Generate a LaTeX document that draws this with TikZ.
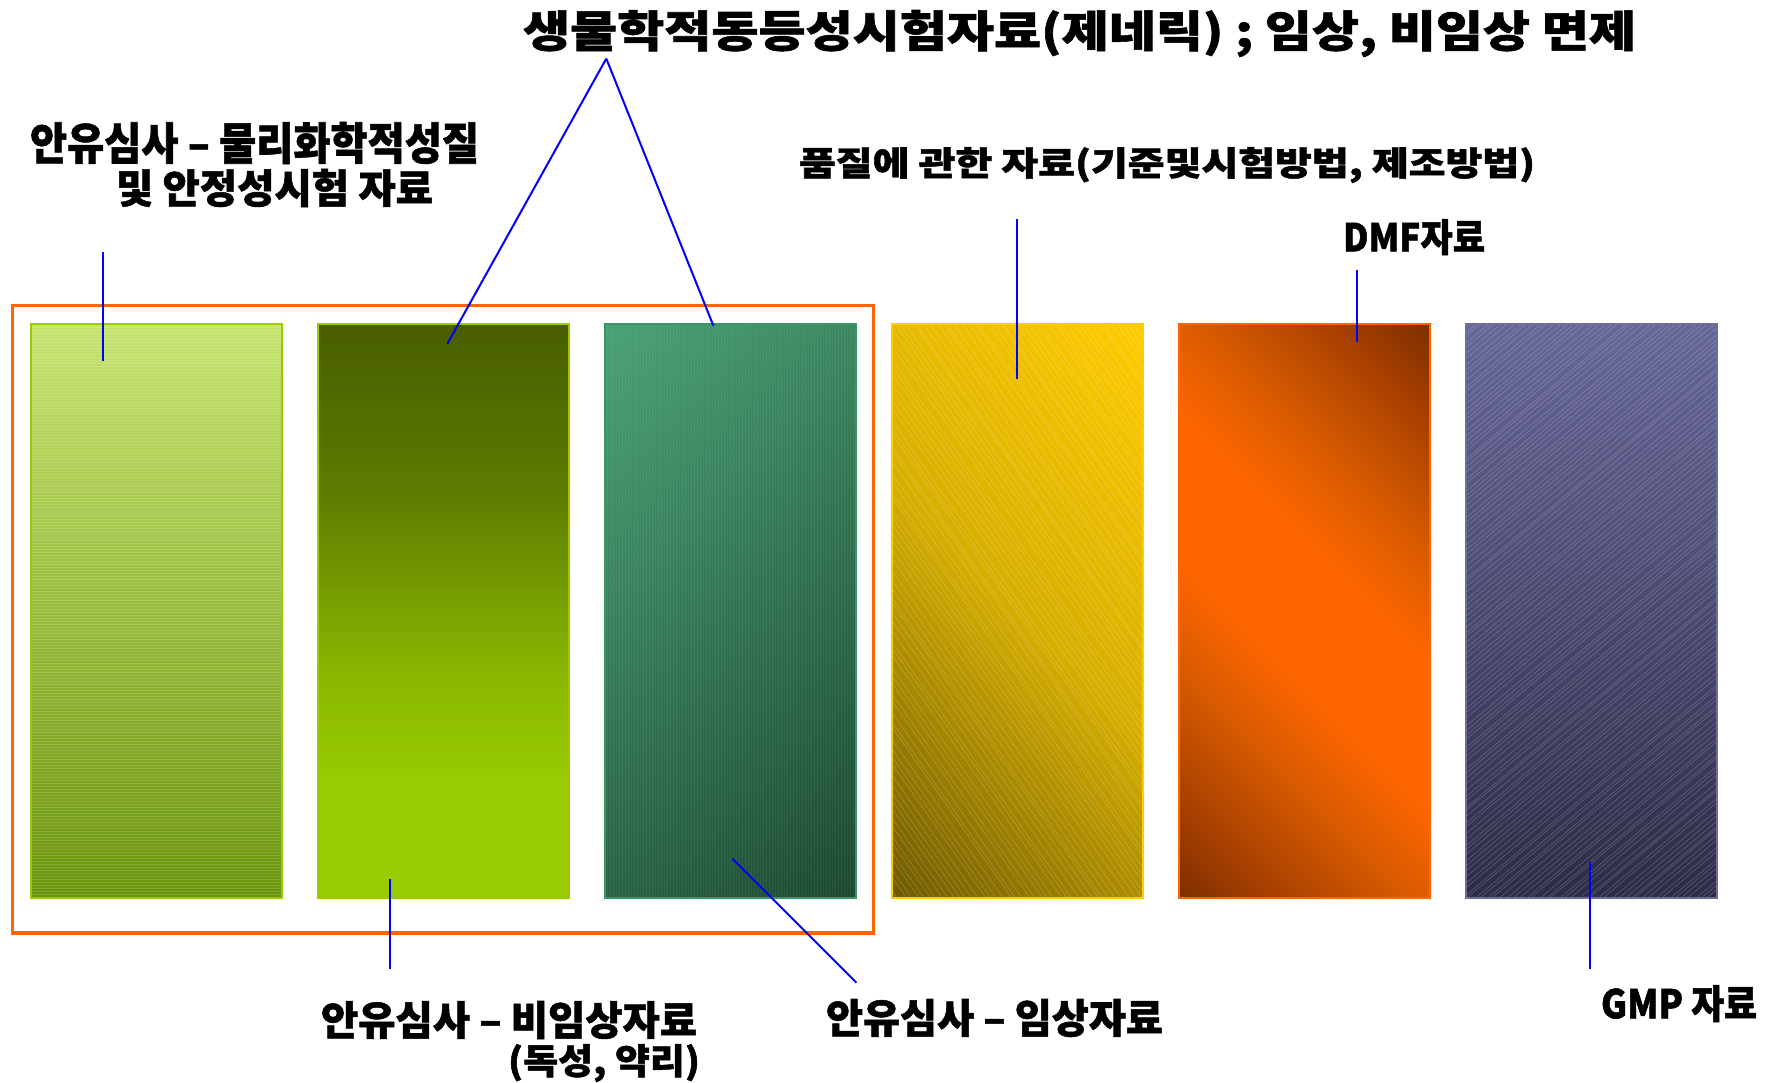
\documentclass[tikz,border=0pt]{standalone}
\usepackage{fontspec}
\usepackage{graphicx}
\setmainfont{Noto Sans CJK KR}[BoldFeatures={FakeBold=1.3}]
\definecolor{b1top}{RGB}{198,228,110}
\definecolor{b1bot}{RGB}{106,148,10}
\definecolor{lime}{RGB}{153,204,0}
\definecolor{b2top}{RGB}{72,94,0}
\definecolor{b2mid}{RGB}{95,124,0}
\definecolor{b2midb}{RGB}{136,182,0}
\definecolor{g3a}{RGB}{74,162,118}
\definecolor{g3b}{RGB}{27,72,48}
\definecolor{g3border}{RGB}{58,150,104}
\definecolor{y4a}{RGB}{108,88,0}
\definecolor{y4m}{RGB}{214,174,0}
\definecolor{y4b}{RGB}{255,204,0}
\definecolor{orng}{RGB}{255,102,0}
\definecolor{omid}{RGB}{214,90,0}
\definecolor{odark}{RGB}{168,64,0}
\definecolor{obrn}{RGB}{118,44,0}
\definecolor{p6top}{RGB}{102,102,152}
\definecolor{p6bot}{RGB}{44,44,70}
\definecolor{p6border}{RGB}{108,108,160}
\definecolor{linkblue}{RGB}{0,0,255}
\pgfdeclareverticalshading{bbtwo}{100bp}{color(0bp)=(lime); color(35bp)=(lime); color(45bp)=(b2midb); color(60bp)=(b2mid); color(75bp)=(b2top); color(100bp)=(b2top)}
\pgfdeclarehorizontalshading{bbthree}{100bp}{color(0bp)=(g3a); color(14bp)=(g3a); color(86bp)=(g3b); color(100bp)=(g3b)}
\pgfdeclarehorizontalshading{bbfour}{100bp}{color(0bp)=(y4a); color(14bp)=(y4a); color(50bp)=(y4m); color(86bp)=(y4b); color(100bp)=(y4b)}
\pgfdeclarehorizontalshading{bbfive}{100bp}{color(0bp)=(obrn); color(13bp)=(obrn); color(23bp)=(odark); color(34bp)=(omid); color(44bp)=(orng); color(56bp)=(orng); color(66bp)=(omid); color(77bp)=(odark); color(87bp)=(obrn); color(100bp)=(obrn)}
\newcommand{\fitto}[3]{\resizebox*{#1pt}{#2pt}{\bfseries #3}}
\begin{document}
\begin{tikzpicture}[x=1pt,y=-1pt,
  panel/.style={rectangle, inner sep=0pt, outer sep=0pt, minimum width=251pt, minimum height=573.5pt},
  rim/.style={line width=2pt},
  txt/.style={inner sep=0pt, outer sep=0pt, anchor=north west},
  link/.style={draw=linkblue, line width=2pt}]
\useasboundingbox[fill=white] (0,0) rectangle (1767,1083);

% panels
\node[panel, top color=b1top, bottom color=b1bot] (b1) at (156,611.25) {};
\node[panel, shade, shading=bbtwo] (b2) at (443,611.25) {};
\node[panel, shade, shading=bbthree, shading angle=-45] (b3) at (730,611.25) {};
\node[panel, shade, shading=bbfour, shading angle=45] (b4) at (1017,611.25) {};
\node[panel, shade, shading=bbfive, shading angle=45] (b5) at (1304,611.25) {};
\node[panel, top color=p6top, bottom color=p6bot] (b6) at (1591,611.25) {};

% textures
\begin{scope}
  \clip (b1.north west) rectangle (b1.south east);
  \foreach \k in {0,...,192}{
    \draw[white, opacity=0.16, line width=0.7pt] (30,324+3*\k) -- (282,324+3*\k);
  }
\end{scope}
\begin{scope}
  \clip (b3.north west) rectangle (b3.south east);
  \foreach \k in {0,...,84}{
    \draw[white, opacity=0.05, line width=0.8pt] (604+3*\k,324) -- (604+3*\k,898);
  }
\end{scope}
\begin{scope}
  \pgfmathsetseed{7}
  \clip (b4.north west) rectangle (b4.south east);
  \foreach \k in {0,...,110}{
    \pgfmathsetmacro\xo{470+6.2*\k+4*rnd}
    \draw[white, opacity=0.22, line width=0.6pt] (\xo,324) -- ++(402,574);
  }
\end{scope}
\begin{scope}
  \pgfmathsetseed{11}
  \clip (b6.north west) rectangle (b6.south east);
  \foreach \k in {0,...,150}{
    \pgfmathsetmacro\xo{770+6.5*\k+4*rnd}
    \draw[white, opacity=0.22, line width=0.6pt] (\xo,898) -- ++(684,-574);
  }
\end{scope}

% panel rims
\draw[rim, draw=lime] (b1.north west) rectangle (b1.south east);
\draw[rim, draw=lime] (b2.north west) rectangle (b2.south east);
\draw[rim, draw=g3border] (b3.north west) rectangle (b3.south east);
\draw[rim, draw=y4b] (b4.north west) rectangle (b4.south east);
\draw[rim, draw=orng] (b5.north west) rectangle (b5.south east);
\draw[rim, draw=p6border] (b6.north west) rectangle (b6.south east);

% orange frame
\node[draw=orng, line width=3.5pt, inner sep=0pt, minimum width=861pt, minimum height=627.6pt] (frame) at (442.9,619.2) {};

% texts
\node[txt] (title) at (523,10) {\fitto{1113}{47}{생물학적동등성시험자료(제네릭) ; 임상, 비임상 면제}};
\node[txt] (phys1) at (30,122) {\fitto{449}{42}{안유심사 – 물리화학적성질}};
\node[txt] (phys2) at (116,169) {\fitto{317}{38}{및 안정성시험 자료}};
\node[txt] (qual) at (799,147) {\fitto{736}{36}{품질에 관한 자료(기준및시험방법, 제조방법)}};
\node[txt] (dmf) at (1343,219) {\fitto{142}{36}{DMF자료}};
\node[txt] (nonc1) at (321,1001) {\fitto{376}{38}{안유심사 – 비임상자료}};
\node[txt] (nonc2) at (508,1044) {\fitto{192}{38}{(독성, 약리)}};
\node[txt] (clin) at (826,999) {\fitto{337}{38}{안유심사 – 임상자료}};
\node[txt] (gmp) at (1601,985) {\fitto{156}{37}{GMP 자료}};

% connector end points
\coordinate (physEnd) at (102.6,252.4);
\coordinate (physIn) at (102.6,360.6);
\coordinate (apex) at (606.3,58.6);
\coordinate (b2In) at (447.4,343.7);
\coordinate (b3In) at (713.4,325.7);
\coordinate (qualEnd) at (1016.6,218.6);
\coordinate (qualIn) at (1016.6,378.7);
\coordinate (dmfEnd) at (1356.9,270.5);
\coordinate (dmfIn) at (1356.9,341.5);
\coordinate (b2Low) at (390,879);
\coordinate (noncEnd) at (390,969);
\coordinate (b3Low) at (732.6,858.8);
\coordinate (clinEnd) at (856.5,982.7);
\coordinate (b6Low) at (1590,862);
\coordinate (gmpEnd) at (1590,969);

% connectors
\draw[link] (physEnd) -- (physIn);
\draw[link] (apex) -- (b2In);
\draw[link] (apex) -- (b3In);
\draw[link] (qualEnd) -- (qualIn);
\draw[link] (dmfEnd) -- (dmfIn);
\draw[link] (b2Low) -- (noncEnd);
\draw[link] (b3Low) -- (clinEnd);
\draw[link] (b6Low) -- (gmpEnd);
\end{tikzpicture}
\end{document}
